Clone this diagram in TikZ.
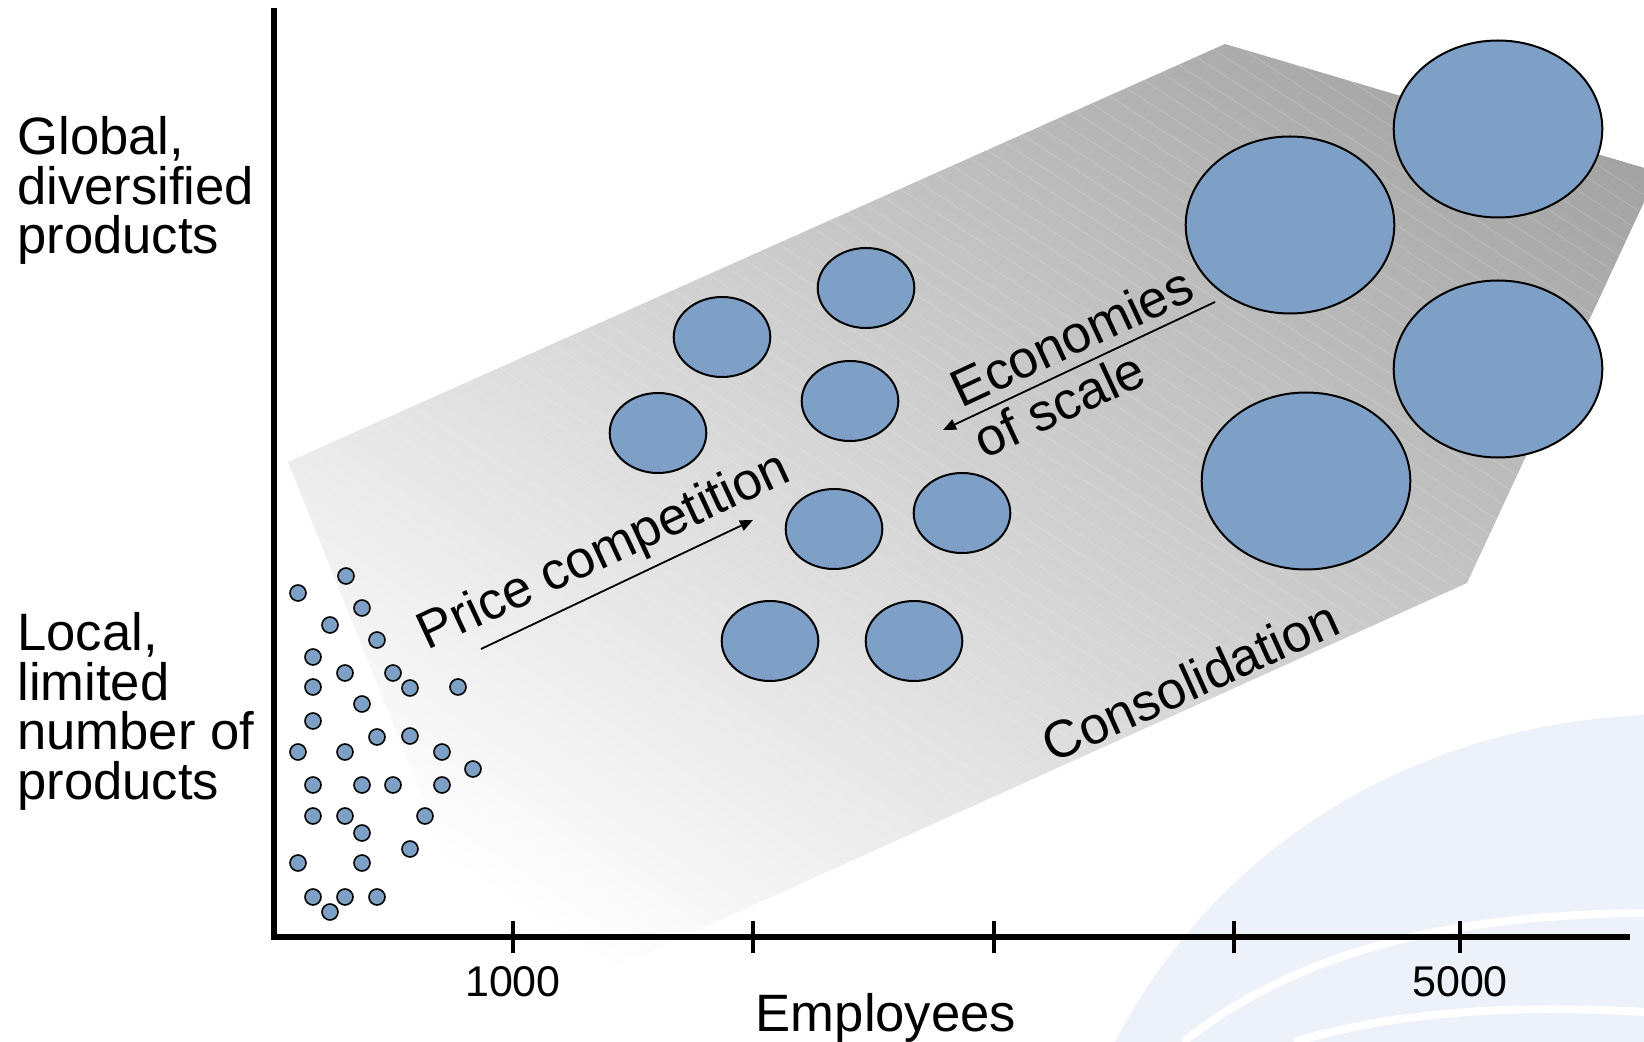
\documentclass[tikz,border=0pt]{standalone}
\usepackage{fontspec}
\setmainfont{Liberation Sans}
\usetikzlibrary{shapes.geometric,arrows.meta}

\definecolor{firmblue}{RGB}{127,160,198}
\definecolor{slabdark}{RGB}{162,162,162}
\definecolor{logoblue}{RGB}{237,241,249}

\tikzset{
  firm/.style={ellipse,draw=black,line width=1pt,fill=firmblue,inner sep=0pt},
  small firm/.style={firm,minimum width=8pt,minimum height=8pt,line width=.8pt},
  mid firm/.style={firm,minimum width=48.3pt,minimum height=40pt},
  big firm/.style={firm,minimum width=104.3pt,minimum height=88.5pt},
  lbl/.style={font=\fontsize{26.3}{24.75}\selectfont,inner sep=0pt},
  ticklbl/.style={font=\fontsize{21.5}{24}\selectfont,inner sep=0pt},
  trend/.style={line width=.9pt,-{Triangle[length=6.5pt,width=5.5pt]}},
}

\begin{document}
\begin{tikzpicture}[x=0.5pt,y=-0.5pt]
\useasboundingbox (0,0) rectangle (1644,1042);

% logo arcs in the corner
\fill[logoblue] (1115,1042) .. controls (1220,840) and (1420,725) .. (1644,715) -- (1644,1042) -- cycle;
\draw[white,line width=4pt] (1183,1042) .. controls (1300,950) and (1450,915) .. (1644,913);
\draw[white,line width=4pt] (1294,1042) .. controls (1400,1010) and (1520,1005) .. (1644,1012);

% shaded band
\begin{scope}
\clip (288,462) -- (1225,44) -- (1658,172) -- (1467,583) -- (510,1015) -- cycle;
\begin{scope}[transform canvas={rotate around={57:(900,418)}}]
\shade[left color=white,right color=slabdark] (280,-482) rectangle (1520,1318);
\foreach \k in {-28,...,37}
  \draw[white,opacity=.25,line width=.25pt] (900+\k*16,-482) -- (900+\k*16,1318);
\end{scope}
\end{scope}

% axes
\draw[line width=2.6pt] (274,8) -- (274,937) -- (1630,937);
\foreach \x in {513,753,994,1234,1460}
  \draw[line width=2pt] (\x,921) -- (\x,953);

% mid-sized firms
\node[mid firm] (m1) at (722,337) {};
\node[mid firm] (m2) at (866,288) {};
\node[mid firm] (m3) at (658,433) {};
\node[mid firm] (m4) at (850,401) {};
\node[mid firm] (m5) at (834,529) {};
\node[mid firm] (m6) at (962,513) {};
\node[mid firm] (m7) at (770,641) {};
\node[mid firm] (m8) at (914,641) {};

% large firms
\node[big firm] (b1) at (1290,225) {};
\node[big firm] (b2) at (1498,129) {};
\node[big firm] (b3) at (1498,369) {};
\node[big firm] (b4) at (1306,481) {};

% small local firms
\foreach \x/\y [count=\i] in {346/576, 298/593, 362/608, 330/625, 377/640, 313/657,
    345/673, 393/673, 410/688, 313/687, 458/687, 362/704, 313/721, 377/737, 410/736,
    298/752, 345/752, 442/752, 473/769, 313/785, 362/785, 393/785, 442/785, 313/816,
    345/816, 425/816, 362/833, 410/849, 298/863, 362/863, 313/897, 345/897, 377/897, 330/912}
  \node[small firm] (s\i) at (\x,\y) {};

% trend arrows
\coordinate (pc-tail) at (481,649);
\coordinate (pc-head) at (753,520);
\draw[trend] (pc-tail) -- (pc-head);
\coordinate (es-tail) at (1215,302);
\coordinate (es-head) at (943,430);
\draw[trend] (es-tail) -- (es-head);

% labels
\node[lbl,anchor=base west,align=left] (global) at (17,254) {Global,\\diversified\\products};
\node[lbl,anchor=base west,align=left] (local) at (17,799) {Local,\\limited\\number of\\products};
\node[ticklbl,anchor=base] (t1000) at (513,996) {1000};
\node[ticklbl,anchor=base] (t5000) at (1460,996) {5000};
\node[lbl,anchor=base] (employees) at (886,1031) {Employees};
\node[lbl,rotate=25] (price) at (605,553) {Price competition};
\node[lbl,rotate=25,align=left,font=\fontsize{26.3}{28}\selectfont] (scale) at (1083,362) {Economies\\of scale};
\node[lbl,rotate=24.3] (consol) at (1190,681) {Consolidation};
\end{tikzpicture}
\end{document}
